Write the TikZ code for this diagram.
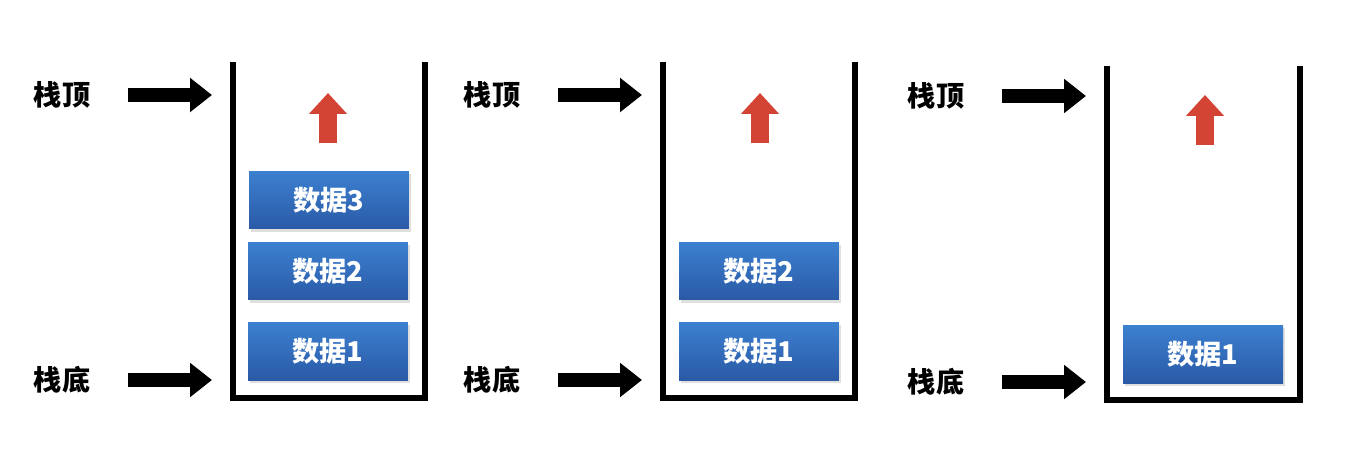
\documentclass[tikz,border=0pt]{standalone}
\usepackage{fontspec}
\usepackage{tikz}
\usetikzlibrary{arrows.meta,shadows}
\newfontfamily\cjk{Noto Sans CJK SC}
\definecolor{boxtop}   {RGB}{60,128,208}
\definecolor{boxbot}   {RGB}{42,90,166}
\definecolor{popred}   {RGB}{212,68,52}
\tikzset{
  lbl/.style    ={font=\cjk\fontsize{16}{18}\selectfont\bfseries, inner sep=0pt},
  wall/.style   ={line width=0.13cm, line join=miter},
  databox/.style={minimum width=3.2cm, minimum height=1.16cm, inner sep=0pt,
                  top color=boxtop, bottom color=boxbot, draw=none,
                  text=white, font=\cjk\fontsize{15.5}{18}\selectfont\bfseries,
                  drop shadow={opacity=0.25, shadow xshift=0.04cm, shadow yshift=-0.06cm}},
  blkarr/.style ={line width=0.28cm, -{Triangle[width=0.66cm, length=0.44cm]}},
  uparr/.style  ={line width=0.36cm, draw=popred,
                  -{Triangle[width=0.74cm, length=0.42cm]}},
}
\begin{document}
\begin{tikzpicture}[x=0.02cm, y=-0.02cm]
  \path[use as bounding box] (0,0) rectangle (1365,453);

  % first stack
  \node[lbl] (top1) at (62,95)  {栈顶};
  \node[lbl] (bot1) at (62,380) {栈底};
  \coordinate (tl1) at (233,62);  \coordinate (br1) at (425,398);
  \draw[wall] (tl1) |- (br1) -- (425,62);
  \coordinate (tin1) at (212,95); \coordinate (bin1) at (212,380);
  \draw[blkarr] ([xshift=0.76cm]top1.east) -- (tin1);
  \draw[blkarr] ([xshift=0.76cm]bot1.east) -- (bin1);
  \node[databox] (d13) at (329,200) {数据3};
  \node[databox] (d12) at (328,271) {数据2};
  \node[databox] (d11) at (328,351) {数据1};
  \coordinate (p1) at (328,93);
  \draw[uparr] (328,143) -- (p1);

  % second stack
  \node[lbl] (top2) at (492,95)  {栈顶};
  \node[lbl] (bot2) at (492,380) {栈底};
  \coordinate (tl2) at (663,62);  \coordinate (br2) at (855,398);
  \draw[wall] (tl2) |- (br2) -- (855,62);
  \coordinate (tin2) at (642,95); \coordinate (bin2) at (642,380);
  \draw[blkarr] ([xshift=0.76cm]top2.east) -- (tin2);
  \draw[blkarr] ([xshift=0.76cm]bot2.east) -- (bin2);
  \node[databox] (d22) at (759,271) {数据2};
  \node[databox] (d21) at (759,351) {数据1};
  \coordinate (p2) at (760,93);
  \draw[uparr] (760,143) -- (p2);

  % third stack
  \node[lbl] (top3) at (936,96)  {栈顶};
  \node[lbl] (bot3) at (936,382) {栈底};
  \coordinate (tl3) at (1107,66); \coordinate (br3) at (1300,400);
  \draw[wall] (tl3) |- (br3) -- (1300,66);
  \coordinate (tin3) at (1086,96); \coordinate (bin3) at (1086,382);
  \draw[blkarr] ([xshift=0.76cm]top3.east) -- (tin3);
  \draw[blkarr] ([xshift=0.76cm]bot3.east) -- (bin3);
  \node[databox] (d31) at (1203,354) {数据1};
  \coordinate (p3) at (1205,95);
  \draw[uparr] (1205,145) -- (p3);
\end{tikzpicture}
\end{document}
